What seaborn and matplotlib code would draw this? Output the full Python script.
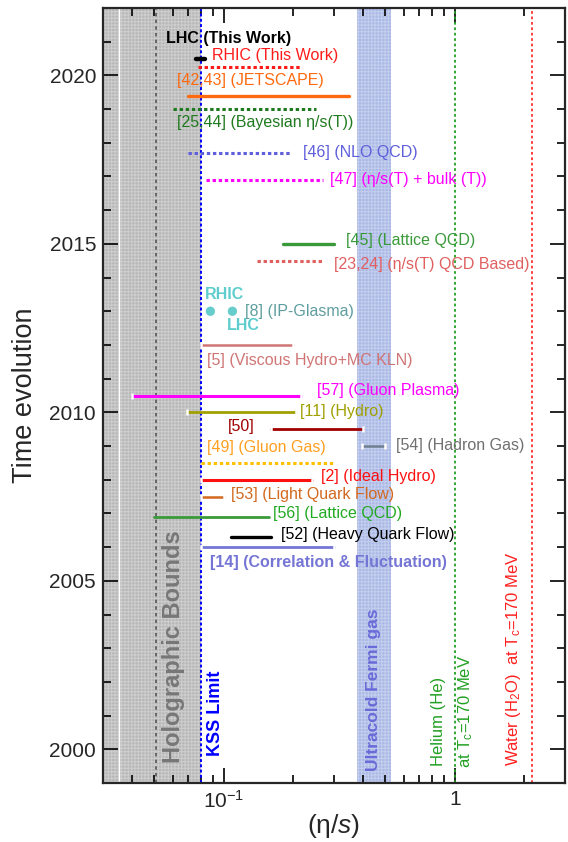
import numpy as np
import pandas as pd
import matplotlib
matplotlib.use("Agg")
import matplotlib.pyplot as plt
from matplotlib.ticker import MultipleLocator, LogLocator, NullFormatter, FixedLocator, FixedFormatter
import seaborn as sns

# ---- data ----
studies = ["LHC (This Work)", "RHIC (This Work)", "[42,43] (JETSCAPE)",
           "[25,44] (Bayesian η/s(T))", "[46] (NLO QCD)", "[47] (η/s(T) + bulk (T))",
           "[45] (Lattice QCD)", "[23,24] (η/s(T) QCD Based)", "[5] (Viscous Hydro+MC KLN)",
           "[57] (Gluon Plasma)", "[11] (Hydro)", "[50]", "[54] (Hadron Gas)",
           "[49] (Gluon Gas)", "[2] (Ideal Hydro)", "[53] (Light Quark Flow)",
           "[56] (Lattice QCD)", "[52] (Heavy Quark Flow)", "[14] (Correlation & Fluctuation)"]
eta_low = [0.076, 0.077, 0.0697, 0.060, 0.070, 0.0835, 0.18, 0.139, 0.0796, 0.040,
           0.069, 0.16, 0.397, 0.0796, 0.0796, 0.0796, 0.050, 0.107, 0.0796]
eta_high = [0.083, 0.218, 0.35, 0.251, 0.195, 0.269, 0.30, 0.266, 0.20, 0.216,
            0.205, 0.40, 0.50, 0.304, 0.24, 0.10, 0.157, 0.16, 0.30]
years = [2020.48, 2020.24, 2019.38, 2019.0, 2017.69, 2016.9, 2015.0, 2014.5, 2012.0,
         2010.48, 2010.0, 2009.5, 2009.0, 2008.5, 2008.0, 2007.5, 2006.9, 2006.3, 2006.0]

# IP-Glasma points (RHIC, LHC)
ipg_eta = [0.0875, 0.109]
ipg_year = [2013.0, 2013.0]

kss = 1 / (4 * np.pi)
fermi_band = [0.376, 0.532]
holo_line = 0.0508
helium_eta = 1.0
water_eta = 2.15

# ---- styles / layout ----
DOT = (0, (1.1, 0.9))
line_color = ["black", "#ff1a1a", "#ff6a10", "#1f7a1f", "#5f5fdc", "#ff00ff", "#3a9a3a",
              "#e06060", "#d07474", "#ff00ff", "#a0a000", "#a00000", "#708090",
              "#ffc000", "#ff1010", "#d2691e", "#3a9a3a", "black", "#7575d5"]
text_color = ["black", "#ff1a1a", "#ff6a10", "#1f7a1f", "#5f5fdc", "#ff00ff", "#3a9a3a",
              "#e06060", "#d07474", "#ff00ff", "#a0a000", "#a00000", "#707070",
              "#ffa020", "#ff1010", "#d2691e", "#22aa22", "black", "#7575d5"]
line_style = ["-", DOT, "-", DOT, DOT, DOT, "-", DOT, "-", "-", "-", "-", "-",
              DOT, "-", "-", "-", "-", "-"]
line_width = [3.2, 2.2, 2.4, 2.2, 2.2, 2.2, 2.4, 2.2, 1.8, 2.2, 2.0, 2.0, 1.8,
              2.2, 2.2, 1.8, 2.0, 2.4, 2.0]
caps = [False, False, False, False, False, False, False, False, True, True, True, True,
        True, False, True, True, False, False, True]
label_xy = [(0.056, 2021.1), (0.0887, 2020.6), (0.063, 2019.85), (0.063, 2018.6),
            (0.22, 2017.7), (0.288, 2016.9), (0.338, 2015.1), (0.30, 2014.4),
            (0.085, 2011.53), (0.253, 2010.64), (0.213, 2010.03), (0.104, 2009.58),
            (0.558, 2009.03), (0.085, 2008.95), (0.263, 2008.1), (0.108, 2007.57),
            (0.164, 2007.0), (0.177, 2006.38), (0.0875, 2005.54)]
bold = [True] + [False] * 17 + [True]

sns.set_style("ticks")
plt.rcParams["font.family"] = ["Liberation Sans", "DejaVu Sans"]
plt.rcParams["mathtext.fontset"] = "custom"
plt.rcParams["mathtext.rm"] = "Liberation Sans"
plt.rcParams["mathtext.it"] = "Liberation Sans:italic"
plt.rcParams["mathtext.bf"] = "Liberation Sans:bold"
plt.rcParams["hatch.linewidth"] = 0.8

fig = plt.figure(figsize=(5.68, 8.42), dpi=100)
ax = fig.add_axes([0.1813, 0.0701, 0.8134, 0.9204])
ax.set_xscale("log")
ax.set_xlim(0.03, 3.0)
ax.set_ylim(1999, 2022)

# shaded regions
ax.axvspan(0.03, kss, facecolor="#b6b6b6", edgecolor="#cdcdcd", hatch="+++++", lw=0, zorder=0)
ax.axvline(0.0353, color="white", lw=1.0, zorder=0.5)
ax.axvspan(fermi_band[0], fermi_band[1], facecolor="#a9b8e4", edgecolor="#c3cdee",
           hatch="+++++", lw=0, zorder=0)

# vertical reference lines
ax.axvline(holo_line, color="#555555", lw=1.2, ls=(0, (2, 2)), zorder=1)
ax.axvline(kss, color="#0000ff", lw=1.4, ls=(0, (1.5, 1.2)), zorder=1)
ax.axvline(helium_eta, color="#22a022", lw=1.3, ls=(0, (1.5, 1.5)), zorder=1)
ax.axvline(water_eta, color="#ff3030", lw=1.3, ls=(0, (1.5, 1.5)), zorder=1)

# study ranges
for i, name in enumerate(studies):
    seg = pd.DataFrame({"eta": [eta_low[i], eta_high[i]], "year": [years[i], years[i]]})
    kw = dict(marker="|", markersize=5, markeredgewidth=1.8) if caps[i] else {}
    sns.lineplot(data=seg, x="eta", y="year", ax=ax, color=line_color[i],
                 linestyle=line_style[i], linewidth=line_width[i], zorder=3, **kw)
    ax.text(label_xy[i][0], label_xy[i][1], name, color=text_color[i], fontsize=11.5,
            fontweight="bold" if bold[i] else "normal", ha="left", va="center", zorder=4)

sns.scatterplot(x=ipg_eta, y=ipg_year, ax=ax, color="#66cccc", s=45, edgecolor="none", zorder=3)
ax.text(0.083, 2013.5, "RHIC", color="#5fcdcd", fontsize=11.5, fontweight="bold", ha="left", va="center")
ax.text(0.103, 2012.57, "LHC", color="#5fcdcd", fontsize=11.5, fontweight="bold", ha="left", va="center")
ax.text(0.124, 2013.0, "[8] (IP-Glasma)", color="#5f9e9e", fontsize=11.5, ha="left", va="center")

# vertical labels
ax.text(0.0607, 1999.6, "Holographic Bounds", rotation=90, ha="center", va="bottom",
        color="#777777", fontsize=17, fontweight="bold")
ax.text(0.0923, 1999.8, "KSS Limit", rotation=90, ha="center", va="bottom",
        color="#0000ff", fontsize=13, fontweight="bold")
ax.text(0.445, 1999.35, "Ultracold Fermi gas", rotation=90, ha="center", va="bottom",
        color="#6a6ad8", fontsize=12.5, fontweight="bold")
ax.text(0.852, 1999.5, "Helium (He)", rotation=90, ha="center", va="bottom",
        color="#22a022", fontsize=12)
ax.text(1.12, 1999.44, r"at T$_\mathregular{c}$=170 MeV", rotation=90, ha="center", va="bottom",
        color="#22a022", fontsize=12)
ax.text(1.79, 1999.5, r"Water (H$_\mathregular{2}$O)  at T$_\mathregular{c}$=170 MeV", rotation=90,
        ha="center", va="bottom", color="#ff2020", fontsize=12)

# axes styling
ax.yaxis.set_major_locator(MultipleLocator(5))
ax.yaxis.set_minor_locator(MultipleLocator(1))
ax.xaxis.set_major_locator(FixedLocator([0.1, 1.0]))
ax.xaxis.set_major_formatter(FixedFormatter([r"$10^{-1}$", "1"]))
ax.xaxis.set_minor_locator(LogLocator(base=10, subs=np.arange(2, 10)))
ax.xaxis.set_minor_formatter(NullFormatter())
ax.tick_params(which="both", direction="in", top=True, right=True, labelsize=15,
               width=1.2, color="black")
ax.tick_params(which="major", length=11, pad=5)
ax.tick_params(which="minor", length=5.5)
for sp in ax.spines.values():
    sp.set_linewidth(1.6)
    sp.set_zorder(5)

ax.set_xlabel("(η/$\\mathit{s}$)", fontsize=19, labelpad=0)
ax.set_ylabel("Time evolution", fontsize=19.5, labelpad=8)

fig.savefig("out.png", dpi=100)
